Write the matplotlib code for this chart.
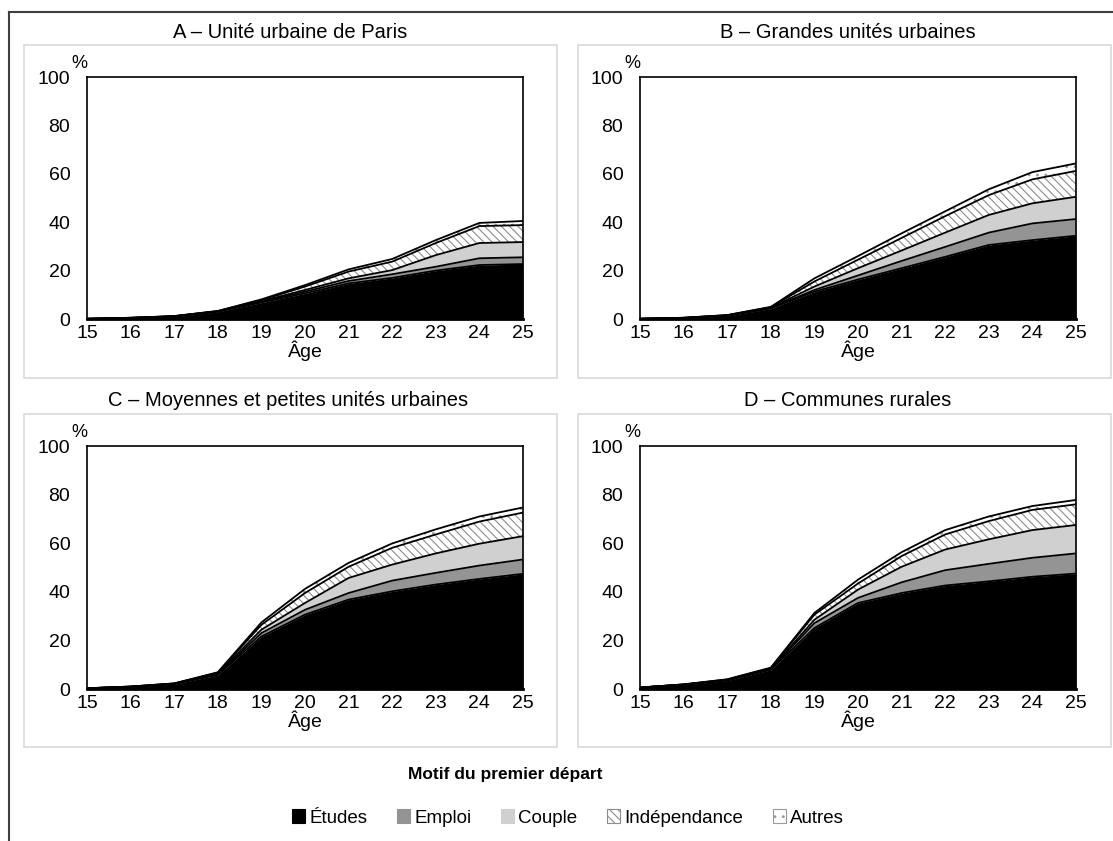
import numpy as np
import matplotlib
matplotlib.use('agg')
import matplotlib.pyplot as plt
from matplotlib.patches import Patch, Rectangle
from matplotlib.lines import Line2D

plt.rcParams['font.family'] = ['Liberation Sans', 'DejaVu Sans']
plt.rcParams['hatch.linewidth'] = 0.8

ages = list(range(15, 26))
motifs = ['Études', 'Emploi', 'Couple', 'Indépendance', 'Autres']

# part (en %) des jeunes partis, par motif, selon l'âge
paris_etudes = [0.1, 0.4, 1.0, 3.0, 6.8, 10.6, 14.7, 17.0, 20.0, 22.3, 22.7]
paris_emploi = [0, 0, 0.1, 0.1, 0.3, 0.7, 1.0, 1.5, 1.6, 2.8, 2.8]
paris_couple = [0, 0.1, 0, 0.1, 0.3, 0.7, 1.1, 1.7, 4.8, 6.3, 6.3]
paris_indep = [0, 0, 0.1, 0.1, 0.4, 1.4, 2.8, 3.5, 5.0, 7.0, 7.0]
paris_autres = [0, 0, 0, 0, 0.3, 0.6, 0.9, 1.1, 1.2, 1.3, 1.7]

grandes_etudes = [0.1, 0.4, 1.3, 4.3, 11.3, 16.3, 21.0, 25.7, 30.6, 32.6, 34.4]
grandes_emploi = [0, 0, 0.1, 0.2, 0.7, 1.7, 3.0, 4.1, 5.1, 6.9, 6.9]
grandes_couple = [0, 0.1, 0.1, 0.2, 1.4, 3.0, 4.3, 5.9, 7.3, 8.3, 9.2]
grandes_indep = [0, 0, 0.1, 0.2, 2.1, 3.5, 5.2, 6.8, 8.2, 9.9, 10.7]
grandes_autres = [0, 0, 0, 0.1, 1.3, 1.5, 1.9, 2.0, 2.4, 3.0, 3.1]

moyennes_etudes = [0.3, 0.9, 2.0, 5.8, 21.6, 30.6, 36.8, 40.2, 43.0, 45.3, 47.4]
moyennes_emploi = [0, 0, 0.1, 0.3, 1.4, 2.0, 2.7, 4.4, 4.8, 5.5, 5.9]
moyennes_couple = [0, 0.1, 0.1, 0.3, 1.4, 2.8, 6.2, 6.6, 8.0, 9.0, 9.6]
moyennes_indep = [0, 0, 0.1, 0.3, 2.0, 4.1, 4.6, 6.9, 7.8, 9.1, 9.7]
moyennes_autres = [0, 0, 0, 0.2, 1.0, 1.7, 1.6, 1.8, 2.1, 2.1, 2.1]

rurales_etudes = [0.6, 1.7, 3.5, 7.9, 25.1, 35.4, 39.5, 42.6, 44.3, 46.2, 47.5]
rurales_emploi = [0, 0.1, 0.1, 0.2, 2.0, 2.1, 4.4, 6.3, 7.2, 7.8, 8.3]
rurales_couple = [0, 0, 0.1, 0.2, 1.4, 3.4, 6.4, 8.5, 10.1, 11.4, 11.7]
rurales_indep = [0, 0.1, 0.2, 0.3, 2.1, 2.5, 4.4, 6.2, 7.5, 8.3, 8.5]
rurales_autres = [0, 0, 0.1, 0.2, 0.7, 1.6, 1.6, 1.8, 1.9, 1.6, 1.8]

panels = [
    ('A – Unité urbaine de Paris', [paris_etudes, paris_emploi, paris_couple, paris_indep, paris_autres]),
    ('B – Grandes unités urbaines', [grandes_etudes, grandes_emploi, grandes_couple, grandes_indep, grandes_autres]),
    ('C – Moyennes et petites unités urbaines', [moyennes_etudes, moyennes_emploi, moyennes_couple, moyennes_indep, moyennes_autres]),
    ('D – Communes rurales', [rurales_etudes, rurales_emploi, rurales_couple, rurales_indep, rurales_autres]),
]

faces = ['black', '#949494', '#d0d0d0', 'white', 'white']
hatches = [None, None, None, '\\\\\\\\', '..']
hatch_cols = ['black', '#949494', '#d0d0d0', '#8c8c8c', '#9a9a9a']

W, H = 1113, 841
fig = plt.figure(figsize=(W / 100, H / 100), dpi=100)

# cadre general
fig.add_artist(Line2D([9 / W, 9 / W], [0, 1 - 12 / H], color='#404040', lw=1.5))
fig.add_artist(Line2D([9 / W, 1], [1 - 12 / H, 1 - 12 / H], color='#404040', lw=1.5))

# positions des panneaux (en pixels)
axes_px = [(87, 77, 523, 319), (640, 77, 1076, 319), (87, 446, 523, 689), (640, 446, 1076, 689)]
box_px = [(24, 45, 557, 378), (578, 45, 1111, 378), (24, 414, 557, 747), (578, 414, 1111, 747)]
title_px = [(290, 32), (848, 32), (288, 401), (848, 401)]

x = np.array(ages)
for i, (title, series) in enumerate(panels):
    bx0, by0, bx1, by1 = box_px[i]
    fig.add_artist(Rectangle((bx0 / W, 1 - by1 / H), (bx1 - bx0) / W, (by1 - by0) / H,
                             fill=False, edgecolor='#d9d9d9', lw=1.2, transform=fig.transFigure))
    x0, y0, x1, y1 = axes_px[i]
    ax = fig.add_axes([x0 / W, 1 - y1 / H, (x1 - x0) / W, (y1 - y0) / H])
    cum = np.cumsum(np.array(series, dtype=float), axis=0)
    bottom = np.zeros(len(ages))
    for k in range(len(motifs)):
        ax.fill_between(x, bottom, cum[k], facecolor=faces[k], hatch=hatches[k],
                        edgecolor=hatch_cols[k], lw=0)
        bottom = cum[k]
    for k in range(len(motifs)):
        ax.plot(x, cum[k], color='black', lw=1.3)
    ax.set_xlim(15, 25)
    ax.set_ylim(0, 100)
    ax.set_xticks(ages)
    ax.set_yticks(range(0, 101, 20))
    ax.tick_params(length=0, labelsize=14)
    ax.tick_params(axis='x', pad=4)
    ax.tick_params(axis='y', pad=12)
    for s in ax.spines.values():
        s.set_color('black')
        s.set_linewidth(1.2)
    ax.spines['bottom'].set_linewidth(2)
    ax.set_xlabel('Âge', fontsize=14, labelpad=-1)
    # le "%" est place au-dessus de l'axe, a gauche
    ax.text(0, 1 + 14 / (y1 - y0), '%', transform=ax.transAxes, fontsize=13,
            ha='right', va='center')
    tx, ty = title_px[i]
    fig.text(tx / W, 1 - ty / H, title, fontsize=14.5, ha='center', va='center')

fig.text(505 / W, 1 - 775 / H, 'Motif du premier départ', fontsize=12.5, fontweight='bold',
         ha='center', va='center')
handles = [Patch(facecolor=faces[k], edgecolor=hatch_cols[k] if k > 0 else 'black',
                 hatch=hatches[k], lw=0.8) for k in range(len(motifs))]
fig.legend(handles, motifs, loc='center', bbox_to_anchor=(568 / W, 1 - 818 / H), ncol=5,
           frameon=False, fontsize=13.5, handlelength=0.7,
           handleheight=0.7, handletextpad=0.2, columnspacing=1.6)

fig.savefig('out.png', dpi=100)
